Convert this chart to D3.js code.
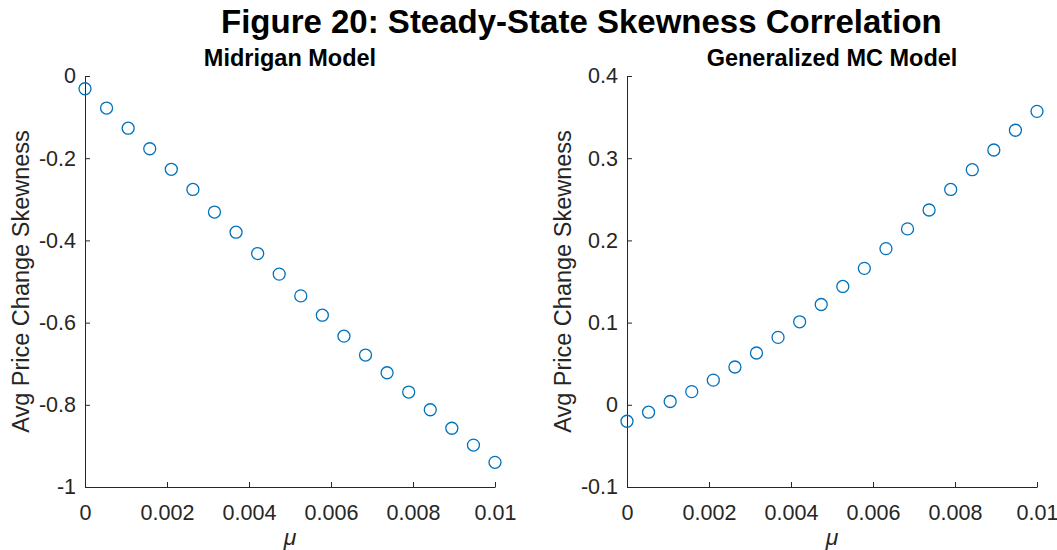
<!DOCTYPE html>
<html>
<head>
<meta charset="utf-8">
<script src="https://cdn.jsdelivr.net/npm/d3@7"></script>
<style>
  html, body { margin: 0; padding: 0; background: #fff; }
  svg { display: block; font-family: "Liberation Sans", Arial, Helvetica, sans-serif; }
</style>
</head>
<body>
<svg id="chart" width="1057" height="550"></svg>
<script>
// Inflation rate grid (mu) shared by both models
const mu = [0, 0.000526, 0.001053, 0.001579, 0.002105, 0.002632, 0.003158, 0.003684,
            0.004211, 0.004737, 0.005263, 0.005789, 0.006316, 0.006842, 0.007368,
            0.007895, 0.008421, 0.008947, 0.009474, 0.01];

// Average price change skewness, Midrigan model
const midriganSkew = [-0.031, -0.078, -0.127, -0.177, -0.227, -0.276, -0.331, -0.380,
                      -0.432, -0.482, -0.535, -0.582, -0.633, -0.679, -0.722, -0.769,
                      -0.812, -0.857, -0.898, -0.940];

// Average price change skewness, generalized menu-cost model
const generalizedSkew = [-0.020, -0.009, 0.004, 0.016, 0.030, 0.046, 0.063, 0.082,
                         0.101, 0.122, 0.144, 0.166, 0.190, 0.214, 0.237, 0.262,
                         0.286, 0.310, 0.334, 0.357];

const xTicks = [0, 0.002, 0.004, 0.006, 0.008, 0.01];
const xTickLabels = ["0", "0.002", "0.004", "0.006", "0.008", "0.01"];
const leftYTicks = [0, -0.2, -0.4, -0.6, -0.8, -1];
const leftYTickLabels = ["0", "-0.2", "-0.4", "-0.6", "-0.8", "-1"];
const rightYTicks = [-0.1, 0, 0.1, 0.2, 0.3, 0.4];
const rightYTickLabels = ["-0.1", "0", "0.1", "0.2", "0.3", "0.4"];

const figureTitle = "Figure 20: Steady-State Skewness Correlation";
const panelTitles = ["Midrigan Model", "Generalized MC Model"];
const yLabel = "Avg Price Change Skewness";
const xLabel = "\u03BC";

const axisColor = "#262626";
const markerColor = "#0072BD";

const svg = d3.select("#chart");

svg.append("text")
  .attr("x", 221).attr("y", 33)
  .attr("text-anchor", "start")
  .attr("font-size", 33).attr("font-weight", "bold")
  .attr("fill", "#000")
  .text(figureTitle);

const panels = [
  { x0: 85, x1: 495, yDomain: [-1, 0], yTicks: leftYTicks, yTickLabels: leftYTickLabels,
    values: midriganSkew, title: panelTitles[0] },
  { x0: 627, x1: 1037, yDomain: [-0.1, 0.4], yTicks: rightYTicks, yTickLabels: rightYTickLabels,
    values: generalizedSkew, title: panelTitles[1] }
];

const yTop = 76, yBottom = 487;

panels.forEach(p => {
  const x = d3.scaleLinear().domain([0, 0.01]).range([p.x0, p.x1]);
  const y = d3.scaleLinear().domain(p.yDomain).range([yBottom, yTop]);
  const g = svg.append("g");

  const xAxis = d3.axisBottom(x)
    .tickValues(xTicks)
    .tickFormat((d, i) => xTickLabels[i])
    .tickSizeInner(-5).tickSizeOuter(0).tickPadding(18);
  const yAxis = d3.axisLeft(y)
    .tickValues(p.yTicks)
    .tickFormat((d, i) => p.yTickLabels[i])
    .tickSizeInner(-5).tickSizeOuter(0).tickPadding(9);

  const gx = g.append("g").attr("transform", `translate(0,${yBottom})`).call(xAxis);
  const gy = g.append("g").attr("transform", `translate(${p.x0},0)`).call(yAxis);

  [gx, gy].forEach(a => {
    a.select(".domain").attr("stroke", axisColor).attr("stroke-width", 1);
    a.selectAll(".tick line").attr("stroke", axisColor).attr("stroke-width", 1);
    a.selectAll(".tick text")
      .attr("fill", axisColor)
      .attr("font-size", 21.5)
      .attr("font-family", "Liberation Sans, Arial, Helvetica, sans-serif");
  });

  // Panel title
  g.append("text")
    .attr("x", (p.x0 + p.x1) / 2).attr("y", 66)
    .attr("text-anchor", "middle")
    .attr("font-size", 23.5).attr("font-weight", "bold")
    .attr("fill", "#000")
    .text(p.title);

  // Axis labels
  g.append("text")
    .attr("transform", `translate(${p.x0 - 56},${(yTop + yBottom) / 2}) rotate(-90)`)
    .attr("text-anchor", "middle")
    .attr("font-size", 23.5)
    .attr("fill", axisColor)
    .text(yLabel);

  g.append("text")
    .attr("x", (p.x0 + p.x1) / 2).attr("y", 545)
    .attr("text-anchor", "middle")
    .attr("font-size", 23).attr("font-style", "italic")
    .attr("fill", axisColor)
    .text(xLabel);

  // Scatter markers
  g.append("g").selectAll("circle")
    .data(p.values)
    .join("circle")
    .attr("cx", (d, i) => x(mu[i]))
    .attr("cy", d => y(d))
    .attr("r", 6)
    .attr("fill", "none")
    .attr("stroke", markerColor)
    .attr("stroke-width", 1.3);
});
</script>
</body>
</html>
